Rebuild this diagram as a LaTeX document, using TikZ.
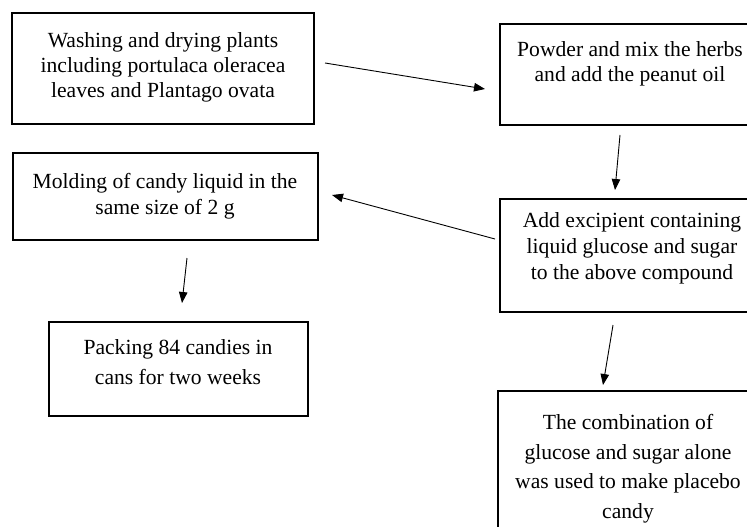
\documentclass[tikz,border=0pt]{standalone}
\usepackage{fontspec}
\setmainfont{Liberation Serif}
\usetikzlibrary{arrows.meta,calc}
\begin{document}
\begin{tikzpicture}[x=1pt,y=-1pt,
  box/.style={draw=black,line width=1.9pt,inner sep=0pt,outer sep=0pt},
  txt/.style={align=center,inner sep=0pt,anchor=north,text=black},
  arr/.style={draw=black,line width=0.9pt,-{Triangle[length=11pt,width=8.5pt]}}]
\useasboundingbox (0,0) rectangle (747,527);
\clip (0,0) rectangle (747,527);
% boxes
\node[box,minimum width=302pt,minimum height=111pt] (wash) at (163,68.5) {};
\node[box,minimum width=260pt,minimum height=101pt] (powder) at (630,74.5) {};
\node[box,minimum width=264pt,minimum height=113pt] (add) at (632,255.5) {};
\node[box,minimum width=305pt,minimum height=87pt] (mold) at (165.5,196.5) {};
\node[box,minimum width=259pt,minimum height=94pt] (pack) at (178.5,369) {};
\node[box,minimum width=262pt,minimum height=169pt] (comb) at (629,475.5) {};
% texts
\node[txt,font=\fontsize{21.6}{25}\selectfont] (washt) at (163,32.5)
  {Washing and drying plants\\including portulaca oleracea\\leaves and Plantago ovata};
\node[txt,font=\fontsize{21.6}{25.5}\selectfont] (powdert) at (630,41)
  {Powder and mix the herbs\\and add the peanut oil};
\node[txt,font=\fontsize{21.6}{26}\selectfont] (addt) at (632,212.5)
  {Add excipient containing\\liquid glucose and sugar\\to the above compound};
\node[txt,font=\fontsize{21.6}{26}\selectfont] (moldt) at (165,173.5)
  {Molding of candy liquid in the\\same size of 2 g};
\node[txt,font=\fontsize{21.6}{29.5}\selectfont] (packt) at (178,339.5)
  {Packing 84 candies in\\cans for two weeks};
\node[txt,font=\fontsize{21.6}{29.5}\selectfont] (combt) at (628,414.5)
  {The combination of\\glucose and sugar alone\\was used to make placebo\\candy};
% arrows
\draw[arr] ($(wash.east)+(11,-5.5)$) -- ($(powder.west)+(-15,14.5)$);
\draw[arr] ($(powder.south)+(-10,10)$) -- ($(add.north)+(-17,-9)$);
\draw[arr] ($(add.west)+(-5,-16.5)$) -- ($(mold.east)+(14,-1.5)$);
\draw[arr] ($(mold.south)+(21.5,18)$) -- ($(pack.north)+(3.5,-19)$);
\draw[arr] ($(add.south)+(-19,13)$) -- ($(comb.north)+(-26,-6)$);
\end{tikzpicture}
\end{document}
